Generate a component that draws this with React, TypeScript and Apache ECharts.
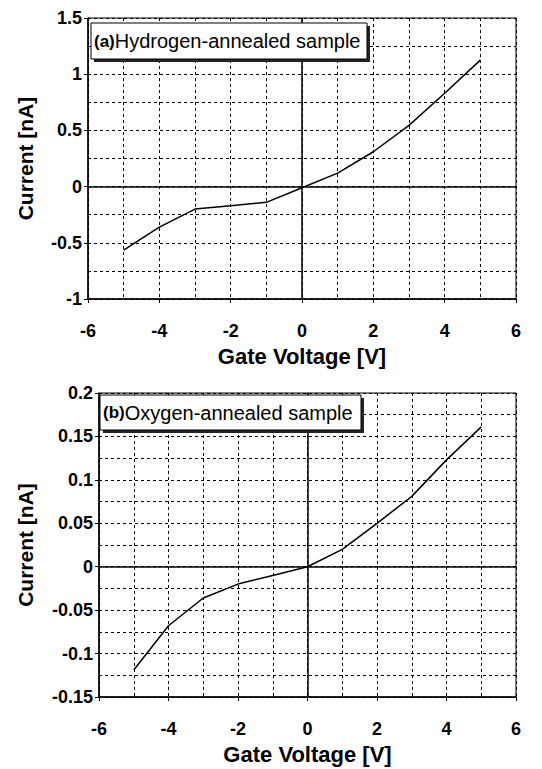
import React, { useEffect, useRef } from "react";
import * as echarts from "echarts";

const gateVoltage = [-5, -4, -3, -2, -1, 0, 1, 2, 3, 4, 5];
const currentHydrogen = [-0.565, -0.36, -0.2, -0.17, -0.14, -0.01, 0.12, 0.31, 0.545, 0.83, 1.125];
const currentOxygen = [-0.119, -0.068, -0.036, -0.02, -0.01, 0, 0.02, 0.05, 0.081, 0.123, 0.161];
const labelA = ["(a)", "Hydrogen-annealed sample"];
const labelB = ["(b)", "Oxygen-annealed sample"];

const FONT = "'Liberation Sans', Arial, sans-serif";

export default function App() {
  const ref = useRef<HTMLDivElement>(null);
  useEffect(() => {
    if (!ref.current) return;
    const chart = echarts.init(ref.current, null, { renderer: "svg" });
    const dash = { color: "#000", width: 1, type: [3, 3] as any };
    const xAxisFor = (gi: number) => ({
      type: "value",
      gridIndex: gi,
      min: -6,
      max: 6,
      interval: 2,
      name: "Gate Voltage [V]",
      nameLocation: "middle",
      nameGap: 46,
      nameTextStyle: { fontFamily: FONT, fontWeight: "bold", fontSize: 22, color: "#000" },
      axisLine: { show: true, onZero: false, lineStyle: { color: "#000", width: 1.5 } },
      axisTick: { show: true, length: 4, lineStyle: { color: "#000" } },
      axisLabel: { margin: 23, fontFamily: FONT, fontWeight: "bold", fontSize: 18, color: "#000" },
      splitLine: { show: true, lineStyle: dash },
      minorTick: { show: false, splitNumber: 2 },
      minorSplitLine: { show: true, lineStyle: dash },
    });
    const yAxisFor = (gi: number, min: number, max: number, interval: number) => ({
      type: "value",
      gridIndex: gi,
      min,
      max,
      interval,
      name: "Current [nA]",
      nameLocation: "middle",
      nameGap: gi === 0 ? 52 : 63,
      nameTextStyle: { fontFamily: FONT, fontWeight: "bold", fontSize: 21, color: "#000" },
      axisLine: { show: true, onZero: false, lineStyle: { color: "#000", width: 1.5 } },
      axisTick: { show: true, length: 4, lineStyle: { color: "#000" } },
      axisLabel: {
        margin: 6,
        fontFamily: FONT,
        fontWeight: "bold",
        fontSize: 18,
        color: "#000",
        formatter: (v: number) => String(+v.toFixed(3)),
      },
      splitLine: { show: true, lineStyle: dash },
      minorTick: { show: false, splitNumber: 2 },
      minorSplitLine: { show: true, lineStyle: dash },
    });
    const zeroLines = {
      silent: true,
      symbol: "none",
      label: { show: false },
      lineStyle: { color: "#000", width: 1.5, type: "solid" },
      data: [{ xAxis: 0 }, { yAxis: 0 }],
    };
    const box = (x: number, y: number, w: number, h: number, parts: string[]) => [
      {
        type: "rect",
        shape: { x: x + 3, y: y + 3, width: w, height: h },
        style: { fill: "#222" },
        z: 100,
      },
      {
        type: "rect",
        shape: { x, y, width: w, height: h },
        style: { fill: "#fff", stroke: "#000", lineWidth: 1 },
        z: 101,
      },
      {
        type: "text",
        x: x + 3,
        y: y + h / 2,
        z: 102,
        style: {
          text: "{b|" + parts[0] + "}" + parts[1],
          fontFamily: FONT,
          fontSize: 20,
          fill: "#000",
          verticalAlign: "middle",
          rich: { b: { fontFamily: FONT, fontSize: 17, fontWeight: "bold", fill: "#000" } },
        },
      },
    ];
    chart.setOption({
      animation: false,
      backgroundColor: "#fff",
      grid: [
        { left: 88, top: 18, width: 428, height: 281, show: true, borderColor: "#000", borderWidth: 1 },
        { left: 99, top: 393, width: 417, height: 304, show: true, borderColor: "#000", borderWidth: 1 },
      ],
      xAxis: [xAxisFor(0), xAxisFor(1)],
      yAxis: [yAxisFor(0, -1, 1.5, 0.5), yAxisFor(1, -0.15, 0.2, 0.05)],
      series: [
        {
          type: "line",
          xAxisIndex: 0,
          yAxisIndex: 0,
          data: gateVoltage.map((x, i) => [x, currentHydrogen[i]]),
          showSymbol: false,
          lineStyle: { color: "#000", width: 1.5 },
          markLine: zeroLines,
        },
        {
          type: "line",
          xAxisIndex: 1,
          yAxisIndex: 1,
          data: gateVoltage.map((x, i) => [x, currentOxygen[i]]),
          showSymbol: false,
          lineStyle: { color: "#000", width: 1.5 },
          markLine: zeroLines,
        },
      ],
      graphic: [...box(91, 23, 276, 36, labelA), ...box(100, 395, 261, 35, labelB)],
    });
    return () => chart.dispose();
  }, []);
  return (
    <div
      ref={ref}
      style={{ position: "fixed", left: 0, top: 0, width: 542, height: 769 }}
    />
  );
}
